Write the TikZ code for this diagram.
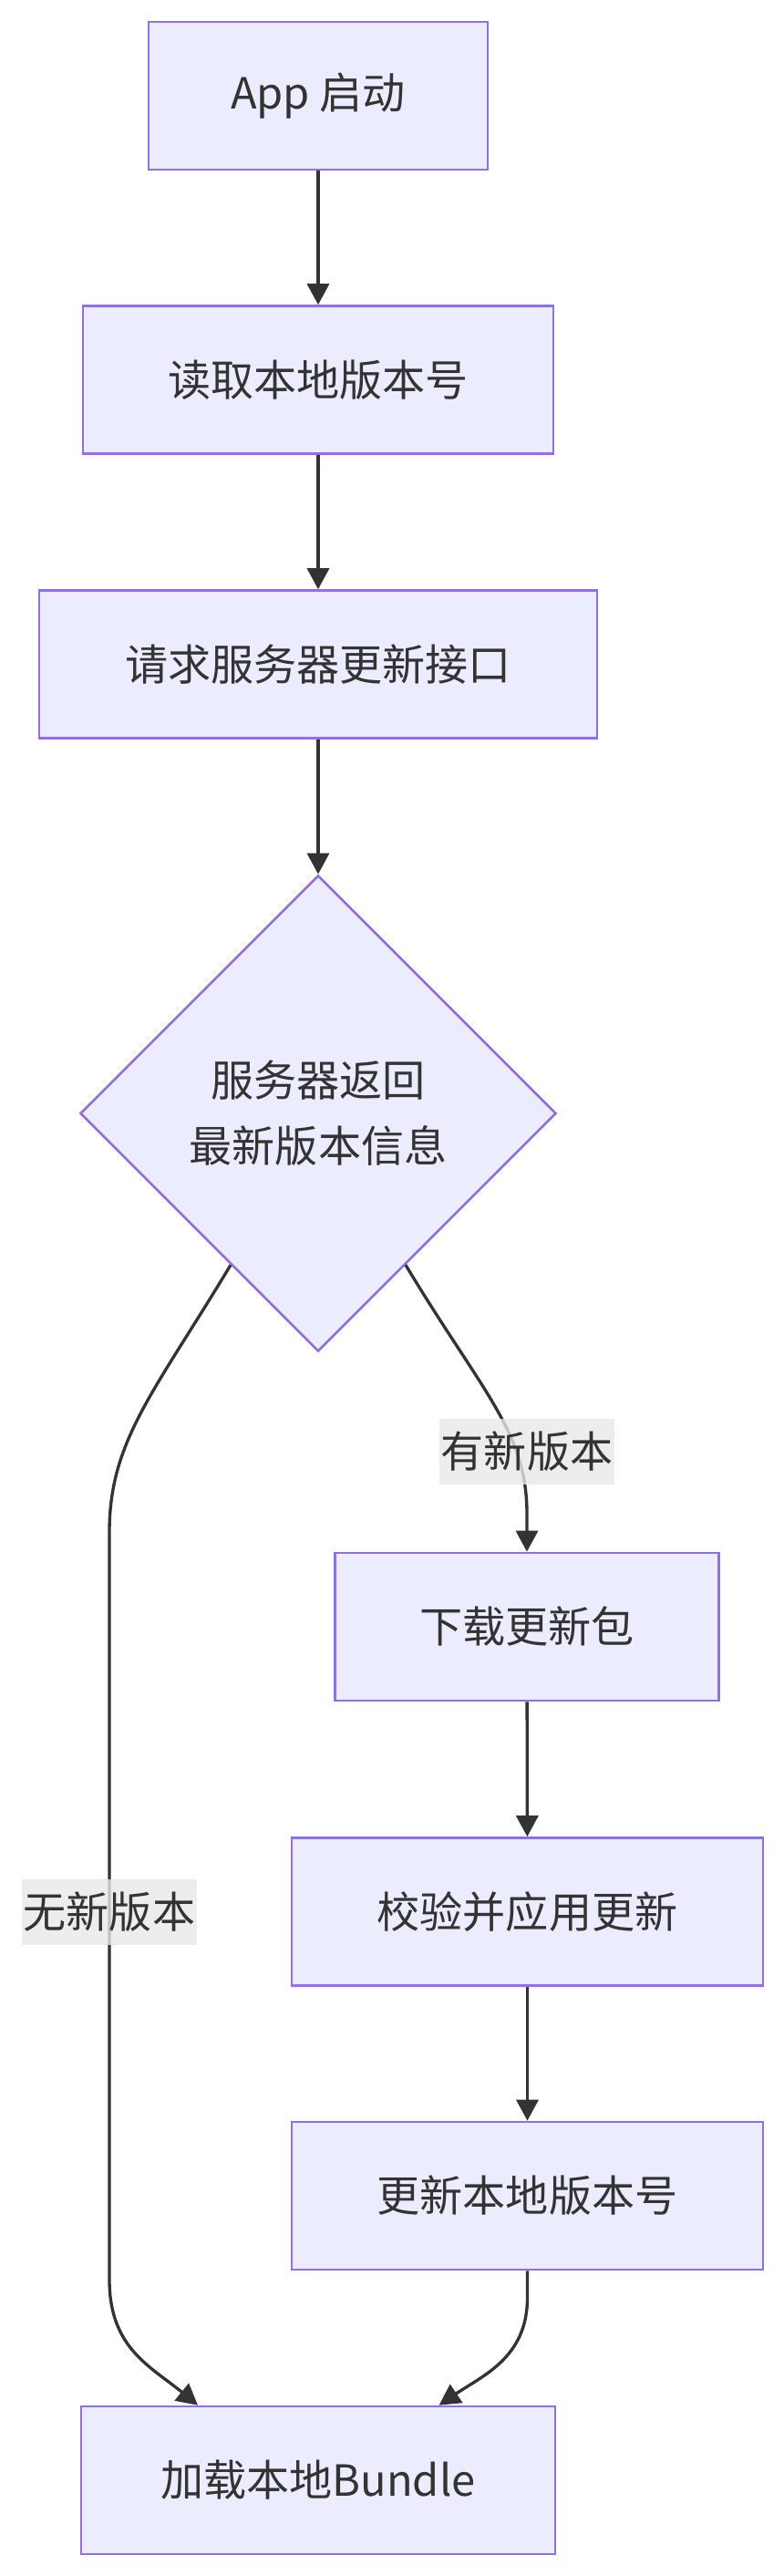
\documentclass[tikz,border=0pt]{standalone}
\usepackage{fontspec}
\newfontfamily\cjk{Noto Sans CJK SC}
\usepackage{tikz}
\usetikzlibrary{arrows.meta,shapes.geometric}

\definecolor{boxfill}{HTML}{ECECFF}
\definecolor{boxline}{HTML}{9370DB}
\definecolor{ink}{HTML}{333333}
\definecolor{tagfill}{HTML}{E8E8E8}

\begin{document}
\begin{tikzpicture}[
  every node/.style={font=\cjk\fontsize{13.4}{20.5}\selectfont, text=ink},
  box/.style={draw=boxline, fill=boxfill, line width=0.75pt, minimum height=1.62cm},
  ask/.style={diamond, aspect=1, draw=boxline, fill=boxfill, line width=0.75pt,
    minimum size=5.22cm, inner sep=0pt, align=center},
  tag/.style={fill=tagfill, fill opacity=0.8, text opacity=1, inner xsep=0.02cm,
    inner ysep=0pt, minimum height=0.72cm},
  flow/.style={draw=ink, line width=0.95pt, -{Triangle[length=0.23cm,width=0.24cm]}}
]

\useasboundingbox (0,0) rectangle (8.6,-28.25);

\coordinate (s) at (3.49,-1.05);
\coordinate (r) at (3.49,-4.165);
\coordinate (q) at (3.49,-7.285);
\coordinate (d) at (3.49,-12.21);
\coordinate (g) at (5.78,-17.84);
\coordinate (a) at (5.785,-20.965);
\coordinate (u) at (5.785,-24.08);
\coordinate (l) at (3.49,-27.2);

\node[box, minimum width=3.72cm] (start) at (s) {App 启动};
\node[box, minimum width=5.16cm] (read) at (r) {读取本地版本号};
\node[box, minimum width=6.12cm] (req) at (q) {请求服务器更新接口};
\node[ask] (dec) at (d) {服务器返回\\最新版本信息};
\node[box, minimum width=4.21cm] (down) at (g) {下载更新包};
\node[box, minimum width=5.17cm] (apply) at (a) {校验并应用更新};
\node[box, minimum width=5.17cm] (upd) at (u) {更新本地版本号};
\node[box, minimum width=5.20cm] (load) at (l) {加载本地Bundle};

\foreach \p/\n in {start/read, read/req, req/dec, down/apply, apply/upd}
    \draw[flow] (\p) -- (\n);

\draw[flow] (dec.-60) .. controls (5.29,-15.27) and (5.78,-15.7) .. (5.78,-16.6) -- (down.north);
\draw[flow] (dec.-120) .. controls (1.69,-15.27) and (1.2,-15.8) .. (1.2,-16.8)
    -- (1.2,-25.0) .. controls (1.2,-25.75) and (1.65,-25.95) .. ([xshift=-1.32cm]load.north);
\draw[flow] (upd.south) -- (5.785,-25.2) .. controls (5.785,-25.85) and (5.3,-26.05) .. ([xshift=1.326cm]load.north);

\node[tag] (yes) at (5.78,-15.92) {有新版本};
\node[tag] (no) at (1.20,-20.965) {无新版本};

\end{tikzpicture}
\end{document}
